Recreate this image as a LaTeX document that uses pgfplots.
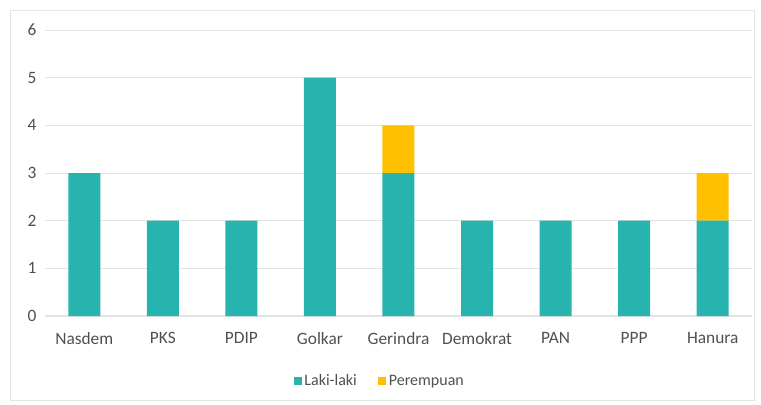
\documentclass[border=0pt]{standalone}
\usepackage{pgfplots}
\pgfplotsset{compat=1.18}
\usepackage{fontspec}
\setmainfont{Carlito}

\definecolor{laki}{HTML}{27B3AE}
\definecolor{perem}{HTML}{FFC000}
\definecolor{gridc}{HTML}{E3E3E3}
\definecolor{txt}{HTML}{505050}

\begin{document}
\begin{tikzpicture}
% page: 761 x 404 px at 0.75pt per px
\path (0,0) rectangle (570.75pt,303pt);
\draw[gray!20, line width=0.6pt] (7.5pt,3pt) rectangle (566pt,295.5pt);
\begin{axis}[
    at={(33.75pt,66pt)}, anchor=south west,
    scale only axis,
    width=530.25pt, height=214.5pt,
    ybar stacked,
    bar width=24pt,
    xmin=-0.5, xmax=8.5,
    ymin=0, ymax=6,
    xtick={0,...,8},
    xticklabels={Nasdem,PKS,PDIP,Golkar,Gerindra,Demokrat,PAN,PPP,Hanura},
    ytick={0,1,2,3,4,5,6},
    ymajorgrids,
    grid style={gridc, line width=0.7pt},
    axis x line*=bottom,
    axis y line*=left,
    x axis line style={gridc, line width=0.8pt, -},
    y axis line style={draw=none},
    major tick length=0pt,
    tick style={draw=none},
    ticklabel style={font=\fontsize{13}{15}\selectfont, text=txt},
    yticklabel style={xshift=-3pt},
    xticklabel style={yshift=-9pt},
    /pgf/number format/assume math mode=true,
    legend style={at={(0.474,-0.227)}, anchor=center, draw=none,
        font=\fontsize{12}{14}\selectfont, text=txt,
        /tikz/every even column/.append style={column sep=14pt}},
    legend columns=2,
    legend image code/.code={\fill[#1] (0pt,-3pt) rectangle (6pt,3pt);},
]
\addplot[fill=laki, draw=none] coordinates {
    (0,3) (1,2) (2,2) (3,5) (4,3) (5,2) (6,2) (7,2) (8,2)
};
\addlegendentry{Laki-laki}
\addplot[fill=perem, draw=none] coordinates {
    (0,0) (1,0) (2,0) (3,0) (4,1) (5,0) (6,0) (7,0) (8,1)
};
\addlegendentry{Perempuan}
\end{axis}
\end{tikzpicture}
\end{document}
